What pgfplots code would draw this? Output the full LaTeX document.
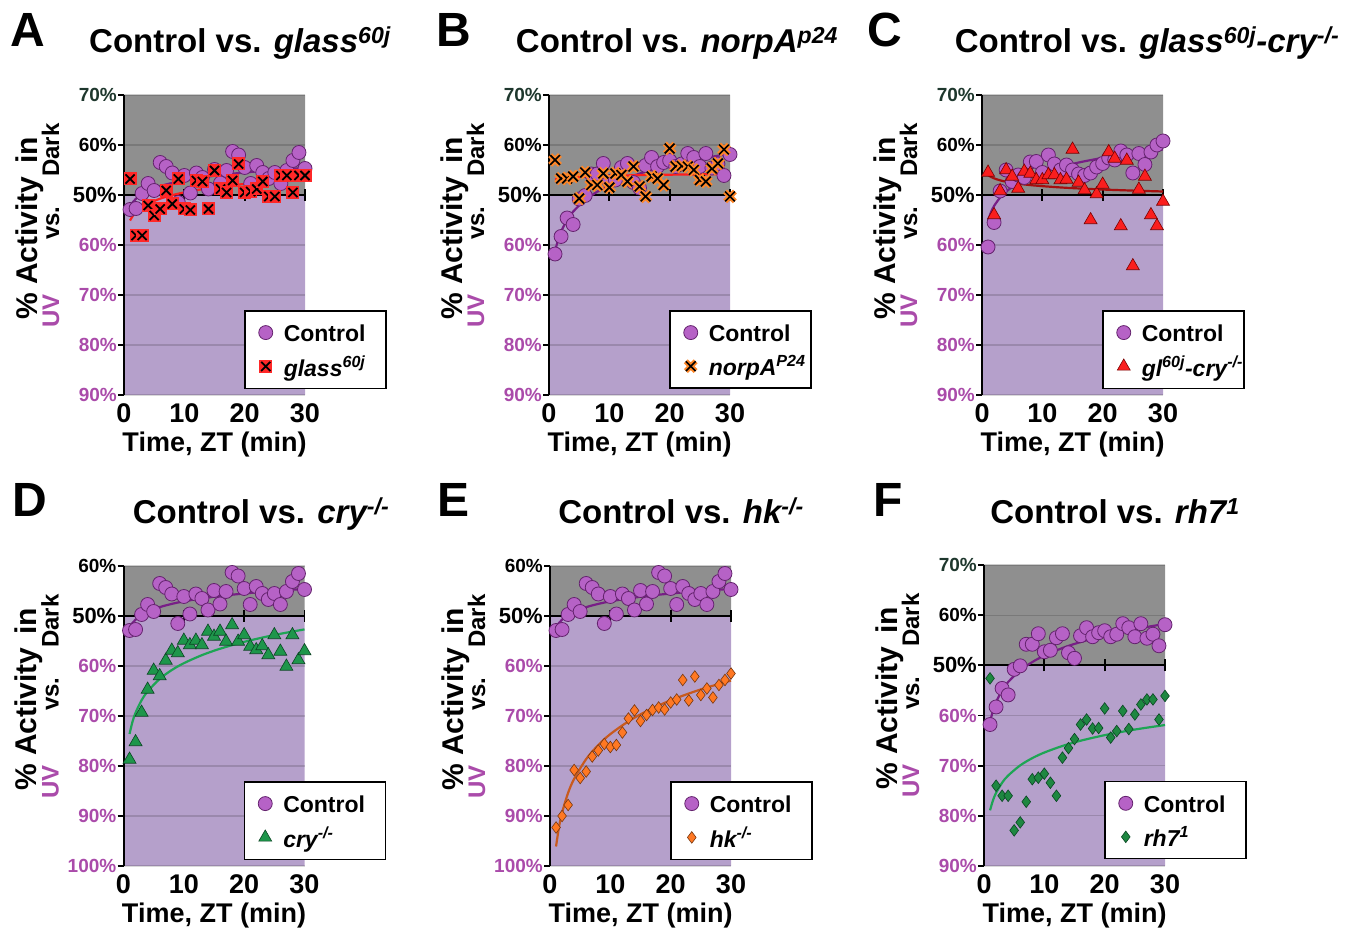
\documentclass[border=0pt]{standalone}
\usepackage{fontspec}
\setmainfont{Liberation Sans}
\usepackage{pgfplots}
\pgfplotsset{compat=1.18}

\definecolor{darkbg}{RGB}{143,143,143}
\definecolor{uvbg}{RGB}{181,160,203}
\definecolor{uvlab}{RGB}{170,75,170}
\definecolor{darklab}{RGB}{30,55,45}
\definecolor{ctrlfill}{RGB}{182,98,198}
\definecolor{ctrldraw}{RGB}{100,35,110}
\definecolor{ctrlline}{RGB}{120,30,135}
\definecolor{glassred}{RGB}{255,40,40}
\definecolor{norporange}{RGB}{255,135,40}
\definecolor{trendred}{RGB}{255,30,30}
\definecolor{glcryfill}{RGB}{250,30,30}
\definecolor{glcrydraw}{RGB}{120,0,0}
\definecolor{glcryline}{RGB}{165,15,15}
\definecolor{cryfill}{RGB}{30,150,75}
\definecolor{crydraw}{RGB}{10,70,35}
\definecolor{greenline}{RGB}{30,165,85}
\definecolor{hkfill}{RGB}{255,120,35}
\definecolor{hkdraw}{RGB}{120,55,15}
\definecolor{hkline}{RGB}{200,90,30}
\definecolor{rhfill}{RGB}{30,135,65}

\newcommand{\uv}[1]{\textcolor{uvlab}{#1\%}}
\newcommand{\legtxt}[1]{\makebox[92pt][l]{\rule[-9pt]{0pt}{29pt}#1}}

\pgfdeclareplotmark{sqx}{%
  \pgfscope
  \pgfpathrectangle{\pgfqpoint{-\pgfplotmarksize}{-\pgfplotmarksize}}{\pgfqpoint{2\pgfplotmarksize}{2\pgfplotmarksize}}%
  \pgfsetfillcolor{glassred}\pgfusepathqfill
  \pgfpathmoveto{\pgfqpoint{-0.7\pgfplotmarksize}{-0.7\pgfplotmarksize}}%
  \pgfpathlineto{\pgfqpoint{0.7\pgfplotmarksize}{0.7\pgfplotmarksize}}%
  \pgfpathmoveto{\pgfqpoint{-0.7\pgfplotmarksize}{0.7\pgfplotmarksize}}%
  \pgfpathlineto{\pgfqpoint{0.7\pgfplotmarksize}{-0.7\pgfplotmarksize}}%
  \pgfsetstrokecolor{black}\pgfsetlinewidth{1.8pt}\pgfusepathqstroke
  \endpgfscope}

\pgfdeclareplotmark{ox}{%
  \pgfscope
  \pgfpathmoveto{\pgfqpoint{-0.75\pgfplotmarksize}{-0.75\pgfplotmarksize}}%
  \pgfpathlineto{\pgfqpoint{0.75\pgfplotmarksize}{0.75\pgfplotmarksize}}%
  \pgfpathmoveto{\pgfqpoint{-0.75\pgfplotmarksize}{0.75\pgfplotmarksize}}%
  \pgfpathlineto{\pgfqpoint{0.75\pgfplotmarksize}{-0.75\pgfplotmarksize}}%
  \pgfsetstrokecolor{norporange}\pgfsetlinewidth{5.5pt}\pgfusepathqstroke
  \pgfpathmoveto{\pgfqpoint{-0.75\pgfplotmarksize}{-0.75\pgfplotmarksize}}%
  \pgfpathlineto{\pgfqpoint{0.75\pgfplotmarksize}{0.75\pgfplotmarksize}}%
  \pgfpathmoveto{\pgfqpoint{-0.75\pgfplotmarksize}{0.75\pgfplotmarksize}}%
  \pgfpathlineto{\pgfqpoint{0.75\pgfplotmarksize}{-0.75\pgfplotmarksize}}%
  \pgfsetstrokecolor{black}\pgfsetlinewidth{1.7pt}\pgfusepathqstroke
  \endpgfscope}

\pgfplotsset{
  basepanel/.style={
    scale only axis, width=181pt, height=300pt,
    xmin=0, xmax=30, clip=false,
    set layers=standard,
    axis lines*=left,
    x axis line style={draw=none},
    y axis line style={line width=2pt, black},
    xtick={0,10,20,30}, xticklabels={0,10,20,30},
    xtick style={draw=none},
    ytick style={line width=1.8pt, black},
    tick align=outside, major tick length=6pt,
    xticklabel style={font=\fontsize{27}{27}\selectfont\bfseries, anchor=base, yshift=-22pt, inner sep=0pt},
    yticklabel style={font=\fontsize{19}{19}\selectfont\bfseries, anchor=east, inner sep=0pt, xshift=-1pt},
    xlabel={Time, ZT (min)},
    xlabel style={font=\fontsize{27}{27}\selectfont\bfseries, at={(axis description cs:0.5,0)}, anchor=base, yshift=-57pt, inner sep=0pt},
    ymajorgrids, grid style={black, opacity=0.15, line width=1.3pt},
    legend cell align=left,
    legend style={at={(rel axis cs:0.663,0.283)}, anchor=north west, draw=black, line width=1.5pt, fill=white,
      font=\fontsize{23}{23}\selectfont\bfseries, inner xsep=10pt, inner ysep=11pt, row sep=12pt,
      nodes={inner sep=0pt}},
    legend image code/.code={\path[draw=none, fill=none] (0pt,0pt) -- (29pt,0pt); \draw[#1] plot coordinates {(11pt,0pt)};},
  },
  typeA/.style={basepanel, ymin=10, ymax=70, ytick={10,20,...,70},
    yticklabels={\uv{90},\uv{80},\uv{70},\uv{60},{\fontsize{22}{22}\selectfont 50\%},60\%,\textcolor{darklab}{70\%}}},
  typeD/.style={basepanel, ymin=0, ymax=60, ytick={0,10,...,60},
    yticklabels={\uv{100},\uv{90},\uv{80},\uv{70},\uv{60},{\fontsize{22}{22}\selectfont 50\%},60\%}},
  ctrl/.style={only marks, mark=*, mark size=7pt, mark options={fill=ctrlfill, draw=ctrldraw, line width=0.8pt}},
  glassm/.style={only marks, mark=sqx, mark size=6.5pt},
  norpm/.style={only marks, mark=ox, mark size=6.5pt},
  glcrym/.style={only marks, mark=triangle*, mark size=7.5pt, mark options={fill=glcryfill, draw=glcrydraw, line width=0.6pt}},
  crym/.style={only marks, mark=triangle*, mark size=7.5pt, mark options={fill=cryfill, draw=crydraw, line width=0.6pt}},
  hkm/.style={only marks, mark=diamond*, mark size=5.8pt, mark options={fill=hkfill, draw=hkdraw, line width=0.6pt}},
  rhm/.style={only marks, mark=diamond*, mark size=5.8pt, mark options={fill=rhfill, draw=crydraw, line width=0.6pt}},
  trend/.style={no marks, smooth, line width=2.2pt, forget plot},
}

% background: dark above 50%, UV below
\newcommand{\bgfill}[2]{%
  \addplot[on layer=axis background, draw=none, fill=uvbg, forget plot] coordinates {(0,#1) (30,#1) (30,50) (0,50) (0,#1)};
  \addplot[on layer=axis background, draw=none, fill=darkbg, forget plot] coordinates {(0,50) (30,50) (30,#2) (0,#2) (0,50)};
  \addplot[black, line width=2.2pt, forget plot] coordinates {(0,50) (30,50)};
  \pgfplotsinvokeforeach{10,20,30}{\draw[line width=1.8pt] ([yshift=-6pt]axis cs:##1,50) -- ([yshift=6pt]axis cs:##1,50);}
}

\newcommand{\ylab}[2]{%
  \node[rotate=90, anchor=base west, inner sep=0pt, font=\fontsize{30}{30}\selectfont\bfseries] at (#1-87, 931-#2-225) {\% Activity\hspace{13pt}in};
  \node[rotate=90, anchor=base west, inner sep=0pt, font=\fontsize{24}{24}\selectfont\bfseries, text=uvlab] at (#1-65, 931-#2-233) {UV};
  \node[rotate=90, anchor=base west, inner sep=0pt, font=\fontsize{24}{24}\selectfont\bfseries] at (#1-65, 931-#2-145) {vs.};
  \node[rotate=90, anchor=base west, inner sep=0pt, font=\fontsize{24}{24}\selectfont\bfseries] at (#1-65, 931-#2-82) {Dark};
}

\begin{document}
\begin{tikzpicture}[x=1pt,y=1pt]

% ---------- A ----------
\begin{axis}[typeA, at={(124pt,536pt)}, anchor=south west]
\bgfill{10}{70}
\addplot[ctrl] coordinates {(1,47.1)(2,47.3)(3,50.3)(4,52.3)(5,50.9)(6,56.5)(7,55.7)(8,54.4)(9,48.5)(10,53.9)(11,50.4)(12,54.4)(13,53.5)(14,51.2)(15,55.1)(16,52.4)(17,54.9)(18,58.7)(19,58.0)(20,55.5)(21,52.3)(22,55.9)(23,54.5)(24,53.3)(25,54.5)(26,52.3)(27,54.9)(28,56.9)(29,58.5)(30,55.3)};
\addlegendentry{\legtxt{Control}}
\addplot[glassm] coordinates {(1,53.2)(2,41.9)(3,41.9)(4,47.9)(5,45.9)(6,47.2)(7,50.9)(8,48.2)(9,53.2)(10,47.2)(11,47.0)(12,52.9)(13,52.7)(14,47.2)(15,54.9)(16,51.2)(17,50.5)(18,52.9)(19,56.2)(20,50.5)(21,50.7)(22,51.2)(23,52.7)(24,49.7)(25,49.7)(26,53.9)(27,53.9)(28,50.5)(29,53.9)(30,53.9)};
\addlegendentry{\legtxt{\textit{glass\textsuperscript{60j}}}}
\addplot[trend, ctrlline] coordinates {(1,47.7)(1.5,48.62)(2,49.27)(3,50.19)(4,50.85)(6,51.77)(8,52.42)(10,52.93)(13,53.52)(16,53.99)(20,54.50)(25,55.01)(30,55.42)};
\addplot[trend, trendred] coordinates {(1,44.9)(1.5,45.89)(2,46.59)(3,47.58)(4,48.28)(6,49.27)(8,49.97)(10,50.52)(13,51.16)(16,51.67)(20,52.21)(25,52.75)(30,53.2)};
\end{axis}

% ---------- B ----------
\begin{axis}[typeA, at={(549pt,536pt)}, anchor=south west]
\bgfill{10}{70}
\addplot[ctrl] coordinates {(1,38.2)(2,41.7)(3,45.4)(4,44.1)(5,49.2)(6,49.9)(7,54.2)(8,54.2)(9,56.3)(10,52.7)(11,53.0)(12,55.5)(13,56.3)(14,52.5)(15,51.4)(16,55.9)(17,57.5)(18,55.7)(19,56.5)(20,56.9)(21,55.7)(22,56.2)(23,58.3)(24,57.5)(25,55.7)(26,58.3)(27,55.4)(28,56.2)(29,53.9)(30,58.1)};
\addlegendentry{\legtxt{Control}}
\addplot[norpm] coordinates {(1,57.0)(2,53.3)(3,53.3)(4,53.7)(5,49.3)(6,54.5)(7,52.0)(8,52.0)(9,54.3)(10,51.5)(11,54.3)(12,54.0)(13,52.7)(14,55.7)(15,51.7)(16,49.7)(17,53.7)(18,53.3)(19,52.0)(20,59.3)(21,55.7)(22,55.8)(23,55.7)(24,55.0)(25,53.0)(26,52.7)(27,55.3)(28,56.3)(29,59.1)(30,49.7)};
\addlegendentry{\legtxt{\textit{norpA\textsuperscript{P24}}}}
\addplot[trend, ctrlline] coordinates {(1,38.7)(1.5,41.03)(2,42.68)(3,45.02)(4,46.67)(6,49.0)(8,50.65)(10,51.94)(13,53.45)(16,54.64)(20,55.93)(25,57.21)(30,58.26)};
\addplot[trend, trendred] coordinates {(1,53.1)(1.5,53.23)(2,53.32)(3,53.45)(4,53.54)(6,53.67)(8,53.77)(10,53.84)(13,53.92)(16,53.99)(20,54.06)(25,54.13)(30,54.19)};
\end{axis}

% ---------- C ----------
\begin{axis}[typeA, at={(982pt,536pt)}, anchor=south west]
\bgfill{10}{70}
\addplot[ctrl] coordinates {(1,39.6)(2,44.5)(3,50.8)(4,55.0)(5,52.7)(6,54.0)(7,53.5)(8,56.6)(9,56.7)(10,54.5)(11,58.0)(12,56.2)(13,55.0)(14,56.0)(15,55.0)(16,54.2)(17,53.9)(18,54.4)(19,55.6)(20,56.3)(21,57.4)(22,57.0)(23,58.8)(24,58.0)(25,54.4)(26,58.3)(27,56.1)(28,58.6)(29,60.0)(30,60.8)};
\addlegendentry{\legtxt{Control}}
\addplot[glcrym] coordinates {(1,54.5)(2,46.0)(3,50.8)(4,55.0)(5,53.7)(6,51.3)(7,54.7)(8,54.3)(9,53.0)(10,53.0)(11,54.0)(12,54.0)(13,53.0)(14,53.1)(15,59.1)(16,52.5)(17,51.0)(18,45.0)(19,50.2)(20,52.1)(21,58.6)(22,57.3)(23,43.8)(24,56.9)(25,35.8)(26,51.1)(27,53.7)(28,46.0)(29,43.8)(30,48.7)};
\addlegendentry{\legtxt{\textit{gl\textsuperscript{60j}-cry\textsuperscript{-/-}}}}
\addplot[trend, ctrlline] coordinates {(1,44.9)(1.5,46.59)(2,47.8)(3,49.49)(4,50.69)(6,52.39)(8,53.59)(10,54.53)(13,55.62)(16,56.49)(20,57.42)(25,58.36)(30,59.12)};
\addplot[trend, glcryline] coordinates {(1,54.0)(1.5,53.61)(2,53.33)(3,52.93)(4,52.66)(6,52.26)(8,51.98)(10,51.77)(13,51.51)(16,51.31)(20,51.09)(25,50.88)(30,50.70)};
\end{axis}

% ---------- D ----------
\begin{axis}[typeD, at={(123.5pt,65pt)}, anchor=south west]
\bgfill{0}{60}
\addplot[ctrl] coordinates {(1,47.1)(2,47.3)(3,50.3)(4,52.3)(5,50.9)(6,56.5)(7,55.7)(8,54.4)(9,48.5)(10,53.9)(11,50.4)(12,54.4)(13,53.5)(14,51.2)(15,55.1)(16,52.4)(17,54.9)(18,58.7)(19,58.0)(20,55.5)(21,52.3)(22,55.9)(23,54.5)(24,53.3)(25,54.5)(26,52.3)(27,54.9)(28,56.9)(29,58.5)(30,55.3)};
\addlegendentry{\legtxt{Control}}
\addplot[crym] coordinates {(1,21.3)(2,24.8)(3,30.7)(4,35.3)(5,39.1)(6,38.0)(7,41.1)(8,43.1)(9,42.6)(10,45.1)(11,44.2)(12,45.1)(13,44.2)(14,46.9)(15,45.9)(16,46.9)(17,44.9)(18,48.2)(19,44.9)(20,46.2)(21,43.9)(22,43.2)(23,44.0)(24,42.2)(25,46.2)(26,42.9)(27,39.9)(28,46.2)(29,41.2)(30,43.0)};
\addlegendentry{\legtxt{\textit{cry\textsuperscript{-/-}}}}
\addplot[trend, ctrlline] coordinates {(1,47.7)(1.5,48.62)(2,49.27)(3,50.19)(4,50.85)(6,51.77)(8,52.42)(10,52.93)(13,53.52)(16,53.99)(20,54.50)(25,55.01)(30,55.42)};
\addplot[trend, greenline] coordinates {(1,26.4)(1.5,28.89)(2,30.66)(3,33.16)(4,34.92)(6,37.42)(8,39.19)(10,40.56)(13,42.17)(16,43.45)(20,44.83)(25,46.2)(30,47.32)};
\end{axis}

% ---------- E ----------
\begin{axis}[typeD, at={(550pt,65pt)}, anchor=south west]
\bgfill{0}{60}
\addplot[ctrl] coordinates {(1,47.1)(2,47.3)(3,50.3)(4,52.3)(5,50.9)(6,56.5)(7,55.7)(8,54.4)(9,48.5)(10,53.9)(11,50.4)(12,54.4)(13,53.5)(14,51.2)(15,55.1)(16,52.4)(17,54.9)(18,58.7)(19,58.0)(20,55.5)(21,52.3)(22,55.9)(23,54.5)(24,53.3)(25,54.5)(26,52.3)(27,54.9)(28,56.9)(29,58.5)(30,55.3)};
\addlegendentry{\legtxt{Control}}
\addplot[hkm] coordinates {(1,7.7)(2,10.0)(3,12.2)(4,19.2)(5,17.6)(6,18.9)(7,21.9)(8,23.1)(9,24.4)(10,23.8)(11,24.2)(12,26.7)(13,29.5)(14,31.1)(15,29.0)(16,30.2)(17,31.2)(18,31.7)(19,31.3)(20,32.7)(21,33.3)(22,37.2)(23,33.1)(24,37.9)(25,34.2)(26,35.5)(27,33.7)(28,36.2)(29,37.2)(30,38.5)};
\addlegendentry{\legtxt{\textit{hk\textsuperscript{-/-}}}}
\addplot[trend, ctrlline] coordinates {(1,47.7)(1.5,48.62)(2,49.27)(3,50.19)(4,50.85)(6,51.77)(8,52.42)(10,52.93)(13,53.52)(16,53.99)(20,54.50)(25,55.01)(30,55.42)};
\addplot[trend, hkline] coordinates {(1,3.9)(1.5,7.85)(2,10.66)(3,14.63)(4,17.43)(6,21.39)(8,24.19)(10,26.38)(13,28.93)(16,30.96)(20,33.14)(25,35.32)(30,37.09)};
\end{axis}

% ---------- F ----------
\begin{axis}[typeA, at={(984pt,65pt)}, anchor=south west, height=301pt]
\bgfill{10}{70}
\addplot[ctrl] coordinates {(1,38.2)(2,41.7)(3,45.4)(4,44.1)(5,49.2)(6,49.9)(7,54.2)(8,54.2)(9,56.3)(10,52.7)(11,53.0)(12,55.5)(13,56.3)(14,52.5)(15,51.4)(16,55.9)(17,57.5)(18,55.7)(19,56.5)(20,56.9)(21,55.7)(22,56.2)(23,58.3)(24,57.5)(25,55.7)(26,58.3)(27,55.4)(28,56.2)(29,53.9)(30,58.1)};
\addlegendentry{\legtxt{Control}}
\addplot[rhm] coordinates {(1,47.4)(2,26.0)(3,24.0)(4,24.0)(5,17.1)(6,18.7)(7,22.8)(8,27.3)(9,27.6)(10,28.4)(11,26.6)(12,24.0)(13,31.6)(14,33.5)(15,35.3)(16,38.2)(17,39.2)(18,37.4)(19,37.5)(20,41.4)(21,35.6)(22,36.9)(23,40.9)(24,37.3)(25,40.2)(26,42.2)(27,43.2)(28,43.2)(29,39.2)(30,43.9)};
\addlegendentry{\legtxt{\textit{rh7\textsuperscript{1}}}}
\addplot[trend, ctrlline] coordinates {(1,38.7)(1.5,41.03)(2,42.68)(3,45.02)(4,46.67)(6,49.0)(8,50.65)(10,51.94)(13,53.45)(16,54.64)(20,55.93)(25,57.21)(30,58.26)};
\addplot[trend, greenline] coordinates {(1,21.1)(1.5,23.13)(2,24.57)(3,26.6)(4,28.03)(6,30.06)(8,31.5)(10,32.62)(13,33.93)(16,34.97)(20,36.08)(25,37.2)(30,38.1)};
\end{axis}

% ---------- y labels ----------
\ylab{124}{95}
\ylab{549}{95}
\ylab{982}{95}
\ylab{123.5}{566}
\ylab{550}{566}
\ylab{984}{565}

% ---------- panel letters ----------
\begin{scope}[every node/.style={anchor=base west, inner sep=0pt, font=\fontsize{48}{48}\selectfont\bfseries}]
\node at (10,884) {A};
\node at (436,884) {B};
\node at (867,884) {C};
\node at (12,414) {D};
\node at (437,414) {E};
\node at (873,414) {F};
\end{scope}

% ---------- titles ----------
\begin{scope}[every node/.style={anchor=base, inner sep=0pt, font=\fontsize{33}{33}\selectfont\bfseries}]
\node at (240,878) {Control vs. \textit{glass\textsuperscript{60j}}};
\node at (677,878) {Control vs. \textit{norpA\textsuperscript{p24}}};
\node at (1147,878) {Control vs. \textit{glass\textsuperscript{60j}-cry\textsuperscript{-/-}}};
\node at (261,407) {Control vs. \textit{cry\textsuperscript{-/-}}};
\node at (681,407) {Control vs. \textit{hk\textsuperscript{-/-}}};
\node at (1115,407) {Control vs. \textit{rh7\textsuperscript{1}}};
\end{scope}

\pgfresetboundingbox
\useasboundingbox (0,0) rectangle (1357,931);
\end{tikzpicture}
\end{document}
